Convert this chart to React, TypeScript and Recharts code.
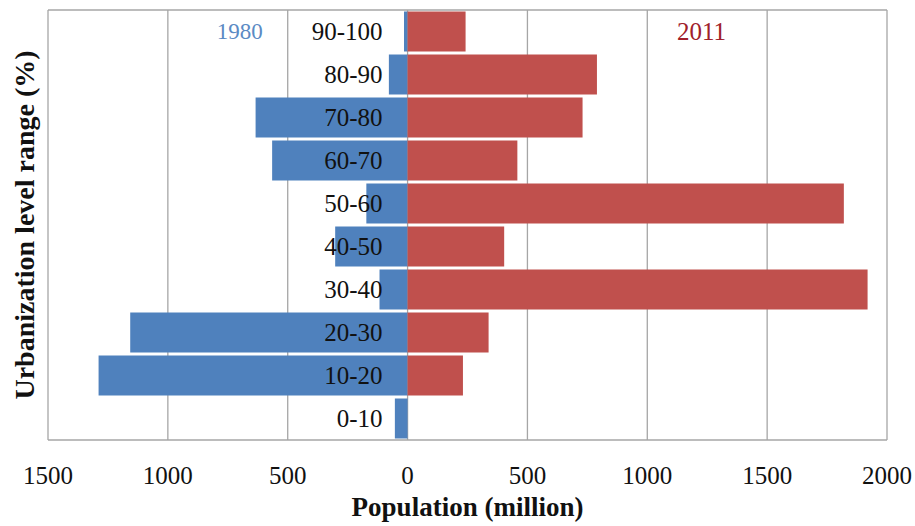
import React from 'react';
import { BarChart, Bar, XAxis, YAxis, CartesianGrid, LabelList, ReferenceDot } from 'recharts';

const categories = ['90-100', '80-90', '70-80', '60-70', '50-60', '40-50', '30-40', '20-30', '10-20', '0-10'];
const pop1980 = [15, 78, 634, 565, 172, 302, 117, 1157, 1289, 53];
const pop2011 = [242, 790, 730, 458, 1820, 403, 1919, 338, 231, 0];
const xTicks = [-1500, -1000, -500, 0, 500, 1000, 1500, 2000];

const data = categories.map((cat, i) => ({ cat, y1980: -pop1980[i], y2011: pop2011[i] }));

const FONT = '"Liberation Serif", "Times New Roman", serif';

const CatLabel = (props: any) => {
  const vb = props.viewBox && props.viewBox.height != null ? props.viewBox : props;
  const { x, y, width, height } = vb;
  const right = Math.max(x, x + width);
  return (
    <text
      x={right - 25}
      y={y + height / 2}
      textAnchor="end"
      dominantBaseline="central"
      fontFamily={FONT}
      fontSize={25}
      fill="#111"
    >
      {props.value}
    </text>
  );
};

const yearLabel = (text: string, size: number, color: string) => (props: any) => {
  const vb = props.viewBox || props;
  const cx = vb.cx != null ? vb.cx : vb.x + (vb.width || 0) / 2;
  const cy = vb.cy != null ? vb.cy : vb.y + (vb.height || 0) / 2;
  return (
    <text x={cx} y={cy} textAnchor="middle" dominantBaseline="central" fontFamily={FONT} fontSize={size} fill={color}>
      {text}
    </text>
  );
};

export default function App() {
  return (
    <div style={{ position: 'absolute', left: 0, top: 0, width: 915, height: 526, background: '#fff' }}>
      <BarChart
        width={915}
        height={526}
        data={data}
        layout="vertical"
        stackOffset="sign"
        barCategoryGap={1.5}
        margin={{ top: 10, right: 28, bottom: 0, left: 0 }}
      >
        <CartesianGrid
          stroke="#A6A6A6"
          strokeWidth={1.3}
          horizontalCoordinatesGenerator={({ offset }: any) => [offset.top, offset.top + offset.height]}
        />
        <XAxis
          type="number"
          domain={[-1500, 2000]}
          ticks={xTicks}
          interval={0}
          tickFormatter={(v: number) => String(Math.abs(v))}
          height={86}
          axisLine={false}
          tickLine={false}
          tickSize={0}
          tickMargin={26}
          tick={{ fontFamily: FONT, fontSize: 25, fill: '#111' }}
          label={{
            value: 'Population (million)',
            position: 'insideBottom',
            offset: 10,
            fontFamily: FONT,
            fontSize: 27,
            fontWeight: 'bold',
            fill: '#111',
          }}
        />
        <YAxis
          type="category"
          dataKey="cat"
          width={48}
          tick={false}
          axisLine={false}
          tickLine={false}
          label={{
            value: 'Urbanization level range (%)',
            angle: -90,
            position: 'center',
            fontFamily: FONT,
            fontSize: 28,
            fontWeight: 'bold',
            fill: '#111',
          }}
        />
        <Bar dataKey="y1980" stackId="a" fill="#4F81BD" isAnimationActive={false}>
          <LabelList dataKey="cat" content={CatLabel} />
        </Bar>
        <Bar dataKey="y2011" stackId="a" fill="#C0504D" isAnimationActive={false} />
        <ReferenceDot
          x={-700}
          y="90-100"
          r={0}
          fill="none"
          stroke="none"
          label={yearLabel('1980', 23, '#5B8AC4')}
        />
        <ReferenceDot
          x={1226}
          y="90-100"
          r={0}
          fill="none"
          stroke="none"
          label={yearLabel('2011', 25, '#A0202A')}
        />
      </BarChart>
    </div>
  );
}
